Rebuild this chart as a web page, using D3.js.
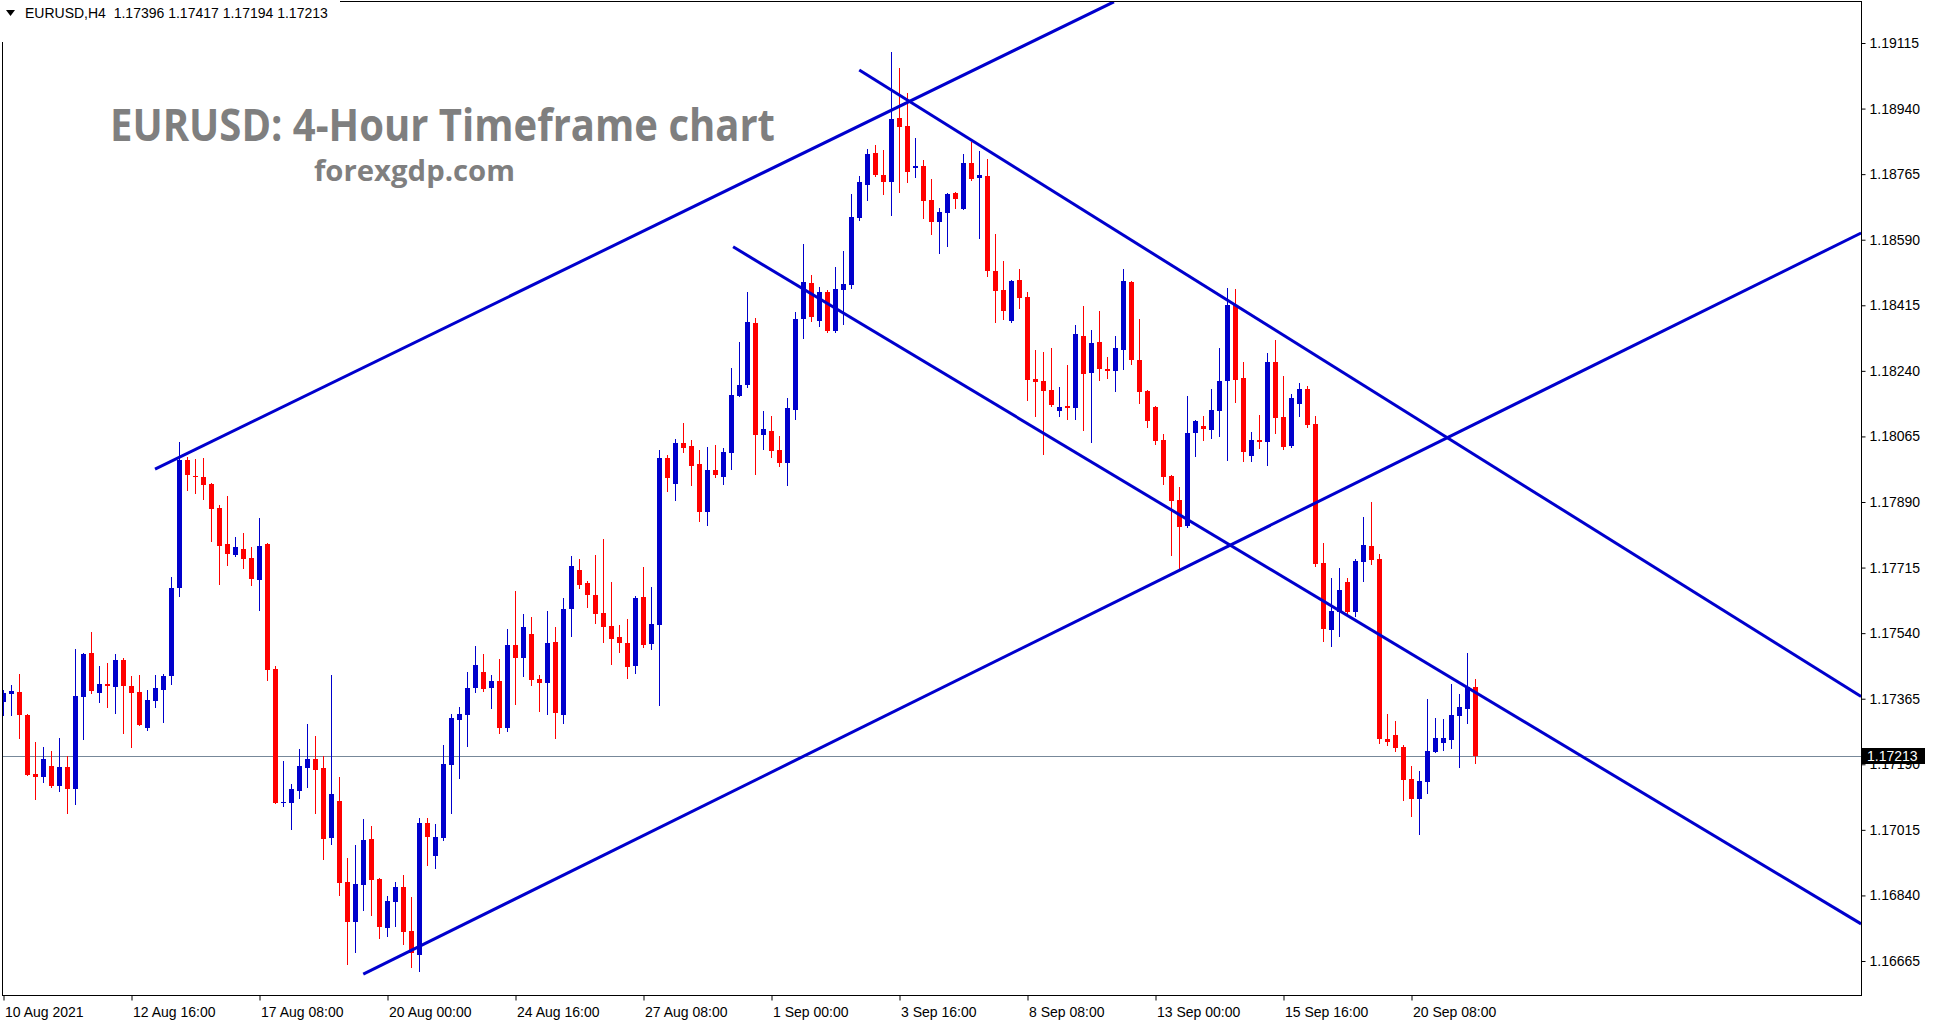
<!DOCTYPE html>
<html><head><meta charset="utf-8">
<script src="https://cdn.jsdelivr.net/npm/d3@7"></script>
<style>html,body{margin:0;padding:0;background:#fff;overflow:hidden}</style>
</head><body><svg id="c" width="1933" height="1023"></svg>
<script>
// ---- DATA (EURUSD H4, bars 10 Aug 2021 .. 21 Sep 2021) ----
const openP = [
1.17356,1.17378,1.17383,1.17322,1.17165,1.17156,1.17186,1.17132,1.17183,1.17124,
1.17370,1.17487,1.17380,1.17404,1.17396,1.17468,1.17399,1.17383,1.17287,1.17359,
1.17388,1.17426,1.17661,1.18002,1.17960,1.17957,1.17938,1.17874,1.17778,1.17749,
1.17765,1.17741,1.17682,1.17778,1.17444,1.17087,1.17087,1.17119,1.17180,1.17204,
1.17180,1.16993,1.17092,1.16876,1.16769,1.16868,1.16991,1.16884,1.16753,1.16823,
1.16863,1.16745,1.16681,1.17033,1.16945,1.16993,1.17188,1.17308,1.17322,1.17394,
1.17436,1.17394,1.17412,1.17287,1.17509,1.17474,1.17538,1.17418,1.17407,1.17517,
1.17322,1.17605,1.17709,1.17674,1.17642,1.17594,1.17559,1.17530,1.17514,1.17452,
1.17636,1.17511,1.17562,1.18008,1.17938,1.18048,1.18040,1.17992,1.17863,1.17976,
1.17957,1.18021,1.18173,1.18202,1.18368,1.18069,1.18080,1.18029,1.17994,1.18136,
1.18379,1.18474,1.18373,1.18451,1.18346,1.18456,1.18470,1.18648,1.18736,1.18821,
1.18763,1.18744,1.18915,1.18894,1.18781,1.18786,1.18696,1.18638,1.18661,1.18715,
1.18672,1.18795,1.18755,1.18760,1.18507,1.18456,1.18373,1.18483,1.18437,1.18219,
1.18213,1.18189,1.18133,1.18146,1.18141,1.18333,1.18235,1.18317,1.18245,1.18240,
1.18296,1.18477,1.18269,1.18186,1.18144,1.18056,1.17960,1.17896,1.17826,1.18074,
1.18093,1.18082,1.18133,1.18213,1.18416,1.18221,1.18013,1.18056,1.18050,1.18264,
1.18117,1.18040,1.18152,1.18192,1.18098,1.17727,1.17549,1.17597,1.17677,1.17597,
1.17730,1.17773,1.17738,1.17257,1.17268,1.17237,1.17151,1.17097,1.17143,1.17223,
1.17247,1.17255,1.17319,1.17338,1.17396];
const highP = [
1.17388,1.17402,1.17431,1.17325,1.17250,1.17237,1.17226,1.17260,1.17212,1.17498,
1.17487,1.17543,1.17452,1.17460,1.17485,1.17474,1.17426,1.17428,1.17388,1.17428,
1.17431,1.17690,1.18050,1.18010,1.18005,1.18007,1.17941,1.17882,1.17906,1.17797,
1.17807,1.17770,1.17847,1.17780,1.17452,1.17199,1.17137,1.17231,1.17298,1.17266,
1.17212,1.17428,1.17156,1.16940,1.16975,1.17044,1.17025,1.16886,1.16838,1.16876,
1.16895,1.16836,1.17047,1.17047,1.17031,1.17242,1.17324,1.17343,1.17436,1.17506,
1.17485,1.17428,1.17471,1.17551,1.17653,1.17591,1.17583,1.17428,1.17599,1.17557,
1.17634,1.17746,1.17738,1.17679,1.17749,1.17791,1.17677,1.17562,1.17578,1.17639,
1.17717,1.17663,1.18029,1.18016,1.18058,1.18101,1.18056,1.18029,1.18037,1.18042,
1.18034,1.18248,1.18316,1.18451,1.18381,1.18133,1.18120,1.18066,1.18168,1.18397,
1.18579,1.18496,1.18464,1.18456,1.18517,1.18560,1.18712,1.18760,1.18832,1.18843,
1.18829,1.19091,1.19048,1.18982,1.18861,1.18803,1.18752,1.18675,1.18715,1.18718,
1.18819,1.18851,1.18827,1.18806,1.18605,1.18533,1.18483,1.18512,1.18451,1.18296,
1.18291,1.18301,1.18197,1.18256,1.18362,1.18413,1.18349,1.18400,1.18277,1.18333,
1.18512,1.18480,1.18379,1.18189,1.18146,1.18072,1.17962,1.17930,1.18173,1.18108,
1.18120,1.18192,1.18301,1.18462,1.18459,1.18264,1.18077,1.18122,1.18288,1.18322,
1.18226,1.18178,1.18208,1.18200,1.18120,1.17781,1.17687,1.17714,1.17687,1.17738,
1.17850,1.17890,1.17751,1.17324,1.17306,1.17242,1.17186,1.17172,1.17364,1.17314,
1.17311,1.17404,1.17378,1.17487,1.17417];
const lowP = [
1.17322,1.17322,1.17260,1.17162,1.17097,1.17143,1.17130,1.17119,1.17060,1.17084,
1.17258,1.17380,1.17356,1.17343,1.17327,1.17274,1.17237,1.17295,1.17282,1.17343,
1.17303,1.17404,1.17639,1.17922,1.17914,1.17898,1.17786,1.17672,1.17722,1.17746,
1.17714,1.17669,1.17602,1.17415,1.17087,1.17079,1.17017,1.17100,1.17130,1.17060,
1.16937,1.16977,1.16841,1.16657,1.16689,1.16801,1.16788,1.16726,1.16732,1.16759,
1.16710,1.16649,1.16638,1.16921,1.16913,1.16988,1.17060,1.17154,1.17239,1.17383,
1.17386,1.17340,1.17274,1.17279,1.17351,1.17426,1.17402,1.17332,1.17324,1.17260,
1.17300,1.17533,1.17661,1.17610,1.17567,1.17517,1.17458,1.17490,1.17420,1.17434,
1.17503,1.17498,1.17348,1.17920,1.17896,1.18024,1.17936,1.17839,1.17829,1.17957,
1.17938,1.17978,1.18173,1.18197,1.17965,1.18032,1.18010,1.17986,1.17936,1.18112,
1.18328,1.18373,1.18360,1.18343,1.18343,1.18365,1.18462,1.18643,1.18696,1.18760,
1.18712,1.18656,1.18718,1.18744,1.18757,1.18648,1.18605,1.18555,1.18573,1.18675,
1.18672,1.18749,1.18595,1.18493,1.18370,1.18379,1.18370,1.18408,1.18162,1.18120,
1.18018,1.18146,1.18120,1.18112,1.18112,1.18082,1.18050,1.18216,1.18221,1.18186,
1.18245,1.18259,1.18154,1.18090,1.18045,1.17938,1.17749,1.17709,1.17823,1.18013,
1.18056,1.18061,1.18066,1.18002,1.18157,1.18000,1.18000,1.18034,1.17989,1.18074,
1.18032,1.18037,1.18120,1.18090,1.17719,1.17519,1.17506,1.17533,1.17586,1.17586,
1.17679,1.17725,1.17247,1.17242,1.17226,1.17095,1.17052,1.17004,1.17114,1.17223,
1.17228,1.17234,1.17183,1.17300,1.17194];
const closeP = [
1.17380,1.17386,1.17322,1.17162,1.17156,1.17204,1.17132,1.17183,1.17124,1.17372,
1.17485,1.17386,1.17404,1.17399,1.17468,1.17399,1.17380,1.17295,1.17362,1.17394,
1.17426,1.17661,1.18002,1.17962,1.17957,1.17936,1.17871,1.17773,1.17751,1.17770,
1.17738,1.17685,1.17773,1.17442,1.17087,1.17090,1.17124,1.17186,1.17204,1.17175,
1.16991,1.17111,1.16873,1.16769,1.16871,1.16988,1.16881,1.16756,1.16825,1.16863,
1.16742,1.16686,1.17033,1.16996,1.16996,1.17191,1.17314,1.17324,1.17394,1.17455,
1.17391,1.17412,1.17287,1.17509,1.17474,1.17557,1.17415,1.17407,1.17514,1.17327,
1.17605,1.17719,1.17669,1.17642,1.17591,1.17557,1.17525,1.17514,1.17450,1.17634,
1.17509,1.17565,1.18008,1.17954,1.18048,1.18034,1.17986,1.17863,1.17976,1.17962,
1.18024,1.18176,1.18202,1.18370,1.18069,1.18085,1.18026,1.17994,1.18141,1.18379,
1.18477,1.18384,1.18451,1.18346,1.18459,1.18472,1.18651,1.18744,1.18819,1.18763,
1.18744,1.18912,1.18891,1.18771,1.18786,1.18694,1.18638,1.18664,1.18712,1.18699,
1.18795,1.18752,1.18763,1.18507,1.18453,1.18400,1.18480,1.18435,1.18216,1.18211,
1.18186,1.18149,1.18144,1.18141,1.18339,1.18232,1.18315,1.18245,1.18240,1.18301,
1.18480,1.18269,1.18184,1.18106,1.18053,1.17957,1.17893,1.17823,1.18074,1.18106,
1.18085,1.18136,1.18213,1.18416,1.18216,1.18024,1.18056,1.18050,1.18264,1.18114,
1.18037,1.18168,1.18192,1.18096,1.17725,1.17551,1.17599,1.17655,1.17597,1.17733,
1.17776,1.17735,1.17257,1.17250,1.17234,1.17148,1.17097,1.17146,1.17226,1.17260,
1.17260,1.17322,1.17343,1.17396,1.17213];

const timeTickBars   = [0,16,32,48,64,80,96,112,128,144,160,176];
const timeTickLabels = ["10 Aug 2021","12 Aug 16:00","17 Aug 08:00","20 Aug 00:00","24 Aug 16:00",
  "27 Aug 08:00","1 Sep 00:00","3 Sep 16:00","8 Sep 08:00","13 Sep 00:00","15 Sep 16:00","20 Sep 08:00"];
const priceTicks = [1.19115,1.18940,1.18765,1.18590,1.18415,1.18240,1.18065,1.17890,
  1.17715,1.17540,1.17365,1.17190,1.17015,1.16840,1.16665];
const lastPrice = 1.17213;
const headerText = "EURUSD,H4  1.17396 1.17417 1.17194 1.17213";
const titleText = "EURUSD: 4-Hour Timeframe chart";
const subTitleText = "forexgdp.com";
// trend lines: [bar index, price] -> [bar index, price]
const trendStartBar = [18.94, 44.97, 106.97, 91.2];
const trendStartPrice = [1.17978, 1.16630, 1.19043, 1.18571];
const trendEndBar = [138.8, 232.2, 232.2, 232.2];
const trendEndPrice = [1.19225, 1.18608, 1.17371, 1.16764];

// ---- DRAWING ----
const BULL = "#0000cc", BEAR = "#ff0000", TREND = "#0000cd";
const svg = d3.select("#c");
const P = {left:2.5, right:1861.5, top:1.5, bottom:995.5};
const n = openP.length;
const x = d3.scaleLinear().domain([0, n-1]).range([3.5, 3.5 + 8*(n-1)]);
const y = d3.scaleLinear().domain([1.16665, 1.19115]).range([961, 43]);

svg.append("rect").attr("width",1933).attr("height",1023).attr("fill","#fff");
svg.append("defs").append("clipPath").attr("id","clip")
  .append("rect").attr("x",P.left).attr("y",P.top).attr("width",P.right-P.left).attr("height",P.bottom-P.top);

const plot = svg.append("g").attr("clip-path","url(#clip)");

// last price line
plot.append("line").attr("x1",P.left).attr("x2",P.right)
  .attr("y1",Math.round(y(lastPrice))+0.5).attr("y2",Math.round(y(lastPrice))+0.5)
  .attr("stroke","#778899").attr("stroke-width",1);

const bars = d3.range(n).map(i=>({i, o:openP[i], h:highP[i], l:lowP[i], c:closeP[i]}));
const col = d => d.c >= d.o ? BULL : BEAR;

plot.append("g").selectAll("line").data(bars).join("line")
  .attr("x1",d=>x(d.i)).attr("x2",d=>x(d.i))
  .attr("y1",d=>Math.round(y(d.h))).attr("y2",d=>Math.round(y(d.l))+1)
  .attr("stroke",col).attr("stroke-width",1);

plot.append("g").selectAll("rect").data(bars).join("rect")
  .attr("x",d=>x(d.i)-2.5).attr("width",5)
  .attr("y",d=>Math.round(y(Math.max(d.o,d.c))))
  .attr("height",d=>Math.max(1, Math.round(y(Math.min(d.o,d.c))) - Math.round(y(Math.max(d.o,d.c)))))
  .attr("fill",col).attr("shape-rendering","crispEdges");

// trend lines
plot.append("g").selectAll("line").data(d3.range(trendStartBar.length)).join("line")
  .attr("x1",k=>x(trendStartBar[k])).attr("y1",k=>y(trendStartPrice[k]))
  .attr("x2",k=>x(trendEndBar[k])).attr("y2",k=>y(trendEndPrice[k]))
  .attr("stroke",TREND).attr("stroke-width",3);

// frame
svg.append("path")
  .attr("d",`M${P.left},${P.top}H${P.right}V${P.bottom}H${P.left}Z`)
  .attr("fill","none").attr("stroke","#000").attr("stroke-width",1).attr("shape-rendering","crispEdges");

// y axis (right)
const yAxis = d3.axisRight(y).tickValues(priceTicks).tickFormat(d3.format(".5f")).tickSize(4).tickPadding(4);
const gy = svg.append("g").attr("transform",`translate(${P.right},0)`).call(yAxis);
gy.select(".domain").remove();
gy.selectAll("text").attr("font-family","Liberation Sans, Arial, sans-serif").attr("font-size",14).attr("fill","#000");
gy.selectAll("line").attr("stroke","#000");

// x axis (bottom)
const xAxis = d3.axisBottom(x).tickValues(timeTickBars).tickFormat((d,i)=>timeTickLabels[i]).tickSize(5);
const gx = svg.append("g").attr("transform",`translate(0,${P.bottom})`).call(xAxis);
gx.select(".domain").remove();
gx.selectAll("line").attr("stroke","#000");
gx.selectAll("text").attr("font-family","Liberation Sans, Arial, sans-serif").attr("font-size",14)
  .attr("fill","#000").attr("text-anchor","start").attr("dx",1).attr("y",21).attr("dy",0);

// last price label
const ly = Math.round(y(lastPrice));
svg.append("rect").attr("x",1862).attr("y",ly-8).attr("width",63).attr("height",16).attr("fill","#000");
svg.append("text").attr("x",1867).attr("y",ly).attr("dy","0.36em").text(d3.format(".5f")(lastPrice))
  .attr("font-family","Liberation Sans, Arial, sans-serif").attr("font-size",14).attr("fill","#fff");

// header
svg.append("rect").attr("x",0).attr("y",0).attr("width",340).attr("height",42).attr("fill","#fff");
svg.append("path").attr("d","M6,10H15L10.5,16Z").attr("fill","#000");
svg.append("text").attr("x",25).attr("y",18).text(headerText)
  .style("white-space","pre")
  .attr("font-family","Liberation Sans, Arial, sans-serif").attr("font-size",14).attr("fill","#000");

// title
svg.append("text").attr("x",110).attr("y",141).text(titleText)
  .attr("textLength",665).attr("lengthAdjust","spacingAndGlyphs")
  .attr("font-family","Open Sans, Lato, sans-serif").attr("font-weight","bold").attr("font-size",45).attr("fill","#7f7f7f");
svg.append("text").attr("x",314).attr("y",181).text(subTitleText)
  .attr("textLength",201).attr("lengthAdjust","spacingAndGlyphs")
  .attr("font-family","Open Sans, Lato, sans-serif").attr("font-weight","bold").attr("font-size",28).attr("fill","#7f7f7f");
</script>
</body></html>
